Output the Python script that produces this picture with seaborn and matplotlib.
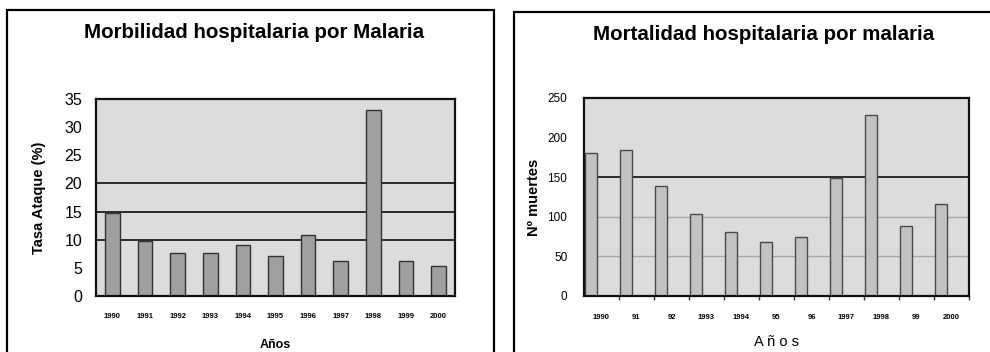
import matplotlib
matplotlib.use("Agg")
import matplotlib.pyplot as plt
from matplotlib.patches import Rectangle
import numpy as np
import pandas as pd
import seaborn as sns

# Morbidity (attack rate, %) by year
morb_years = ["1990", "1991", "1992", "1993", "1994", "1995",
              "1996", "1997", "1998", "1999", "2000"]
morb_rate = [14.7, 9.8, 7.6, 7.6, 9.0, 7.1, 10.8, 6.2, 33.1, 6.2, 5.3]

# Mortality (number of deaths) by year
mort_years = ["1990", "91", "92", "1993", "1994", "95",
              "96", "1997", "1998", "99", "2000"]
mort_deaths = [181, 184, 139, 104, 81, 68, 74, 149, 229, 89, 116]

sns.set_theme(style="white")
plt.rcParams["font.family"] = ["Liberation Sans", "DejaVu Sans"]
plt.rcParams["text.color"] = "black"
plt.rcParams["axes.labelcolor"] = "black"

W, H = 990, 352
fig = plt.figure(figsize=(W / 100, H / 100), dpi=100)
fig.patch.set_facecolor("white")


def px_axes(x0, y0, x1, y1):
    return fig.add_axes([x0 / W, 1 - y1 / H, (x1 - x0) / W, (y1 - y0) / H])


# panel frames
for (x0, y0, x1, y1) in [(7, 10, 494, 400), (514, 12, 1100, 400)]:
    fig.patches.append(Rectangle((x0 / W, 1 - y1 / H), (x1 - x0) / W, (y1 - y0) / H,
                                 transform=fig.transFigure, fill=False,
                                 edgecolor="black", linewidth=1.6, zorder=0))


def style_axes(ax):
    ax.set_facecolor("#dcdcdc")
    for s in ax.spines.values():
        s.set_color("#111111")
        s.set_linewidth(1.6)
        s.set_visible(True)


# ---------- left: morbidity ----------
ax1 = px_axes(96, 99, 455, 296)
df1 = pd.DataFrame({"year": morb_years, "rate": morb_rate})
for g in [10, 15, 20]:
    ax1.axhline(g, color="#2a2a2a", linewidth=1.4, zorder=0.5)
sns.barplot(data=df1, x="year", y="rate", ax=ax1, color="#a0a0a0",
            saturation=1, width=0.45, edgecolor="#333333", linewidth=1.0,
            zorder=2)
style_axes(ax1)
ax1.set_ylim(0, 35)
ax1.set_xlim(-0.5, len(morb_years) - 0.5)
ax1.set_yticks(np.arange(0, 36, 5))
ax1.tick_params(axis="y", labelsize=11.5, length=0, pad=10, colors="black")
ax1.tick_params(axis="x", labelsize=5.5, length=0, pad=12, colors="black")
for t in ax1.get_xticklabels():
    t.set_fontweight("bold")
ax1.set_xlabel("Años", fontsize=9, fontweight="bold", labelpad=14)
ax1.set_ylabel("Tasa Ataque (%)", fontsize=10.5, fontweight="bold", labelpad=13)
fig.text(254 / W, 1 - 32 / H, "Morbilidad hospitalaria por Malaria",
         fontsize=14.8, fontweight="bold", ha="center", va="center")

# ---------- right: mortality ----------
ax2 = px_axes(584, 98, 969, 296)
df2 = pd.DataFrame({"year": mort_years, "deaths": mort_deaths})
ax2.axhline(50, color="#a8a8a8", linewidth=1.0, zorder=0.5)
ax2.axhline(100, color="#a8a8a8", linewidth=1.0, zorder=0.5)
ax2.axhline(150, color="#2a2a2a", linewidth=1.4, zorder=0.5)
sns.barplot(data=df2, x="year", y="deaths", ax=ax2, color="#c2c2c2",
            saturation=1, width=0.33, edgecolor="#4a4a4a", linewidth=1.0,
            zorder=2)
# bars sit toward the left of each year slot
for p in ax2.patches:
    p.set_x(p.get_x() - 0.3)
style_axes(ax2)
ax2.set_ylim(0, 250)
ax2.set_xlim(-0.5, len(mort_years) - 0.5)
ax2.set_yticks(np.arange(0, 251, 50))
ax2.set_xticks(np.arange(len(mort_years)) + 0.5, minor=True)
ax2.tick_params(axis="x", which="minor", length=3, width=1, color="#333333",
                bottom=True)
ax2.tick_params(axis="y", labelsize=8.5, length=0, pad=12, colors="black")
ax2.tick_params(axis="x", which="major", labelsize=5.5, length=0, pad=13,
                colors="black")
for t in ax2.get_xticklabels():
    t.set_fontweight("bold")
ax2.set_xlabel("A ñ o s", fontsize=10.5, labelpad=10)
ax2.set_ylabel("Nº muertes", fontsize=10.5, fontweight="bold", labelpad=5)
fig.text(764 / W, 1 - 35 / H, "Mortalidad hospitalaria por malaria",
         fontsize=14.8, fontweight="bold", ha="center", va="center")

fig.savefig("out.png", dpi=100)
